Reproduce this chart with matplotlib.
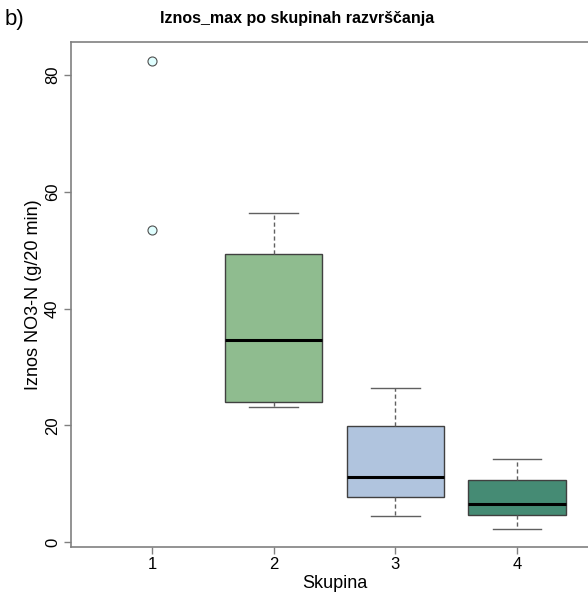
import matplotlib
matplotlib.use("Agg")
import matplotlib.pyplot as plt

plt.rcParams['font.family'] = ['Liberation Sans', 'DejaVu Sans']

groups = [1, 2, 3, 4]
tick_labels = ["1", "2", "3", "4"]
# box stats per group (group 1 shows only outliers)
q1 = [None, 24.0, 7.7, 4.7]
med = [None, 34.6, 11.2, 6.6]
q3 = [None, 49.4, 19.9, 10.7]
whislo = [None, 23.2, 4.5, 2.3]
whishi = [None, 56.4, 26.3, 14.3]
outliers_g1 = [82.4, 53.4]
colors = ["#e0ffff", "#8fbc8f", "#b0c4de", "#458b74"]

title = "Iznos_max po skupinah razvrščanja"
xlabel = "Skupina"
ylabel = "Iznos NO3-N (g/20 min)"

fig = plt.figure(figsize=(5.88, 5.95), dpi=100)
ax = fig.add_axes([71/588, 48/595, 527/588, 505/595])

stats = []
pos = []
for i, g in enumerate(groups):
    if med[i] is None:
        continue
    stats.append(dict(med=med[i], q1=q1[i], q3=q3[i], whislo=whislo[i],
                      whishi=whishi[i], fliers=[]))
    pos.append(g)

bp = ax.bxp(stats, positions=pos, widths=0.8, patch_artist=True,
            showfliers=False,
            boxprops=dict(edgecolor="#404040", linewidth=1.0),
            medianprops=dict(color="black", linewidth=2.2),
            whiskerprops=dict(color="#606060", linestyle=(0, (3, 2)), linewidth=1.0),
            capprops=dict(color="#606060", linewidth=1.0), capwidths=0.4)
for patch, g in zip(bp['boxes'], pos):
    patch.set_facecolor(colors[g - 1])

ax.plot([groups[0]] * len(outliers_g1), outliers_g1, 'o', markersize=6.5,
        markerfacecolor=colors[0], markeredgecolor="#505050", markeredgewidth=0.8,
        clip_on=False)

ax.set_xlim(0.335, 4.665)
ax.set_ylim(-0.85, 85.65)
ax.set_xticks(groups)
ax.set_xticklabels(tick_labels)
ax.set_yticks([0, 20, 40, 60, 80])
for lab in ax.get_yticklabels():
    lab.set_rotation(90)
    lab.set_va('center')
ax.tick_params(axis='both', labelsize=12, colors="#808080", labelcolor="black",
               length=5, width=1.0, direction='out')
ax.tick_params(axis='x', pad=2)
ax.tick_params(axis='y', pad=3)
for s in ax.spines.values():
    s.set_color("#808080")
    s.set_linewidth(1.2)

ax.set_xlabel(xlabel, fontsize=13, labelpad=2)
ax.set_ylabel(ylabel, fontsize=13, labelpad=2)
fig.text(297/588, 1 - 18/595, title, ha='center', va='center',
         fontsize=11.5, fontweight='bold')
fig.text(5/588, 1 - 20/595, "b)", ha='left', va='center', fontsize=16)

fig.savefig("out.png", dpi=100)
